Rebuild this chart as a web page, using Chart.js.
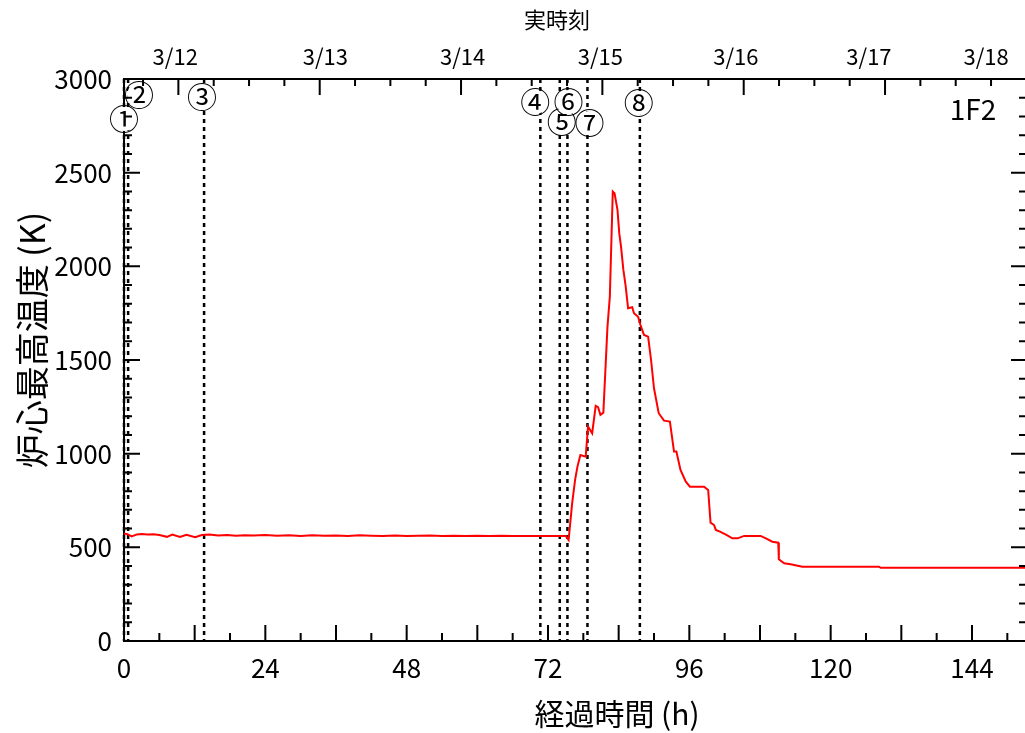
<!DOCTYPE html>
<html>
<head>
<meta charset="utf-8">
<script src="https://cdn.jsdelivr.net/npm/chart.js@4/dist/chart.umd.min.js"></script>
<style>
html, body { margin: 0; padding: 0; background: #fff; }
#wrap { width: 1025px; height: 733px; }
</style>
</head>
<body>
<div id="wrap"><canvas id="core-temp-chart" width="1025" height="733"></canvas></div>
<script>
// 経過時間 (h)
const hours = [
    0, 0.6, 1.3, 2.2, 3.0, 4.0, 5.0, 6.0, 7.3, 8.2, 9.5, 10.6, 12.1, 13.2, 14.5, 16.0,
    17.5, 19.0, 20.5, 22.0, 24.0, 26.0, 28.0, 30.0, 32.0, 34.0, 36.0, 38.0, 40.0, 42.0,
    44.0, 46.0, 48.0, 50.0, 52.0, 54.0, 56.0, 58.0, 60.0, 62.0, 64.0, 66.0, 68.0, 70.0,
    72.0, 74.0, 75.0,
    75.5, 76.1, 76.6, 77.0, 77.5, 78.4, 78.8, 79.5, 80.1, 80.5, 80.9, 81.4, 82.1, 82.5,
    83.0, 83.3, 83.8, 84.1, 84.4, 84.8, 85.2, 85.6, 86.3, 86.6, 87.3, 87.7, 88.3, 89.0,
    89.5, 90.0, 90.8, 91.7, 92.7, 93.4, 93.8, 94.5, 95.4, 96.1, 98.5, 99.2, 99.6, 100.2,
    100.5, 101.2, 102.3, 103.3, 104.2, 105.3, 108.1, 109.0, 110.1, 111.1, 111.2, 112.1,
    113.2, 114.4, 115.2, 128.2, 128.5, 153.0
];
// 炉心最高温度 (K)
const temps = [
    574, 570, 558, 569, 571, 568, 570, 566, 556, 568, 555, 567, 554, 566, 568, 563,
    566, 562, 565, 563, 566, 562, 564, 561, 564, 562, 563, 560, 564, 562,
    561, 563, 560, 562, 563, 561, 562, 560, 562, 561, 562, 561, 561, 561,
    561, 561, 561,
    539, 735, 860, 931, 993, 984, 1144, 1109, 1255, 1248, 1207, 1219, 1678, 1838,
    2399, 2390, 2301, 2177, 2105, 1981, 1892, 1776, 1782, 1750, 1731, 1687, 1634, 1625,
    1500, 1349, 1216, 1176, 1171, 1011, 1011, 913, 850, 824, 824, 806, 632, 619,
    593, 584, 566, 548, 548, 561, 561, 548, 530, 525, 436, 415,
    410, 402, 397, 397, 391, 391
];

// イベント ①〜⑧
const eventNames = ['①', '②', '③', '④', '⑤', '⑥', '⑦', '⑧'];
const eventHours = [0, 0.7, 13.6, 70.7, 74.0, 75.3, 78.7, 87.6];
// ラベルの置き場所 (線からのずれ px, 高さ px)
const eventLabelPos = [[0, 119], [11, 95], [-2, 97], [-5, 102], [2, 122], [1, 102], [2, 123], [-1, 103]];

// 目盛ラベル
const xTickLabels = [0, 24, 48, 72, 96, 120, 144];
const yTickLabels = [0, 500, 1000, 1500, 2000, 2500, 3000];
const dateLabels = ['3/12', '3/13', '3/14', '3/15', '3/16', '3/17', '3/18'];
const dateLabelHours = [8.7, 34.2, 57.5, 80.9, 103.9, 126.5, 146.4];
// 3/11 14:46 から 3/12 0:00 まで
const midnightOffset = 9 + 14 / 60;

const X_MAX = 153;
const FONT = "'Noto Sans CJK JP', 'Noto Sans', sans-serif";

Chart.defaults.font.family = FONT;
Chart.defaults.color = '#000';

const eventLines = {
    id: 'eventLines',
    beforeDatasetsDraw(chart) {
        const { ctx, chartArea: a, scales } = chart;
        ctx.save();
        ctx.strokeStyle = '#000';
        ctx.lineWidth = 2.5;
        ctx.setLineDash([4, 4]);
        eventHours.forEach(h => {
            const x = scales.x.getPixelForValue(h);
            ctx.beginPath();
            ctx.moveTo(x, a.top);
            ctx.lineTo(x, a.bottom);
            ctx.stroke();
        });
        ctx.restore();
    },
    afterDraw(chart) {
        const { ctx, scales } = chart;
        ctx.save();
        ctx.font = '30px ' + FONT;
        ctx.textAlign = 'center';
        ctx.textBaseline = 'middle';
        eventHours.forEach((h, i) => {
            const x = scales.x.getPixelForValue(h) + eventLabelPos[i][0];
            const y = eventLabelPos[i][1];
            ctx.fillStyle = '#fff';
            ctx.beginPath();
            ctx.arc(x, y, 12, 0, Math.PI * 2);
            ctx.fill();
            ctx.fillStyle = '#000';
            ctx.fillText(eventNames[i], x, y);
        });
        ctx.restore();
    }
};

// 内向きの目盛線とタイトル
const frame = {
    id: 'frame',
    afterDraw(chart) {
        const { ctx, chartArea: a, scales } = chart;
        ctx.save();
        ctx.strokeStyle = '#000';
        ctx.lineWidth = 2;
        ctx.beginPath();
        for (let i = 1; i * 6 < X_MAX; i++) {
            const x = scales.x.getPixelForValue(i * 6);
            const len = i % 2 === 0 ? 16 : 8;
            ctx.moveTo(x, a.bottom);
            ctx.lineTo(x, a.bottom - len);
        }
        for (let i = -1; midnightOffset + i * 6 < X_MAX; i++) {
            const x = scales.x2.getPixelForValue(midnightOffset + i * 6);
            const len = i % 4 === 0 ? 16 : 7;
            ctx.moveTo(x, a.top);
            ctx.lineTo(x, a.top + len);
        }
        for (let i = 1; i < 30; i++) {
            const y = scales.y.getPixelForValue(i * 100);
            const major = i % 5 === 0;
            ctx.moveTo(a.left, y);
            ctx.lineTo(a.left + (major ? 16 : 8), y);
            ctx.moveTo(a.right, y);
            ctx.lineTo(a.right - (major ? 14 : 6), y);
        }
        ctx.stroke();

        ctx.fillStyle = '#000';
        ctx.textAlign = 'center';
        ctx.textBaseline = 'middle';
        ctx.font = '22px ' + FONT;
        ctx.fillText('実時刻', 557, 20);
        ctx.font = '28px ' + FONT;
        ctx.fillText('1F2', 973, 109);
        ctx.font = '30px ' + FONT;
        ctx.fillText('経過時間 (h)', 617, 714);
        ctx.translate(32, 340);
        ctx.rotate(-Math.PI / 2);
        ctx.font = '34px ' + FONT;
        ctx.fillText('炉心最高温度 (K)', 0, 0);
        ctx.restore();
    }
};

const ctx = document.getElementById('core-temp-chart').getContext('2d');
new Chart(ctx, {
    type: 'line',
    data: {
        datasets: [{
            label: '炉心最高温度',
            data: hours.map((h, i) => ({ x: h, y: temps[i] })),
            borderColor: '#ff0000',
            borderWidth: 2,
            pointRadius: 0,
            tension: 0,
            fill: false
        }]
    },
    options: {
        responsive: false,
        animation: false,
        events: [],
        layout: { padding: 0 },
        plugins: {
            legend: { display: false },
            tooltip: { enabled: false }
        },
        scales: {
            x: {
                type: 'linear',
                position: 'bottom',
                min: 0,
                max: X_MAX,
                afterBuildTicks: axis => { axis.ticks = xTickLabels.map(v => ({ value: v })); },
                afterFit: axis => { axis.height = 92; },
                grid: { display: false, drawTicks: false },
                border: { display: true, color: '#000', width: 2 },
                ticks: { font: { size: 26 }, padding: 12, maxRotation: 0, autoSkip: false, callback: v => String(v) }
            },
            x2: {
                type: 'linear',
                position: 'top',
                min: 0,
                max: X_MAX,
                afterBuildTicks: axis => { axis.ticks = dateLabelHours.map(v => ({ value: v })); },
                afterFit: axis => { axis.height = 79; },
                grid: { display: false, drawTicks: false },
                border: { display: true, color: '#000', width: 2 },
                ticks: {
                    font: { size: 22 },
                    padding: 9,
                    maxRotation: 0,
                    autoSkip: false,
                    callback: (v, i) => dateLabels[i]
                }
            },
            y: {
                position: 'left',
                min: 0,
                max: 3000,
                afterBuildTicks: axis => { axis.ticks = yTickLabels.map(v => ({ value: v })); },
                afterFit: axis => { axis.width = 124; },
                grid: { display: false, drawTicks: false },
                border: { display: true, color: '#000', width: 2 },
                ticks: { font: { size: 26 }, padding: 12, callback: v => String(v) }
            },
            y2: {
                position: 'right',
                min: 0,
                max: 3000,
                afterFit: axis => { axis.width = 0; },
                grid: { display: false, drawTicks: false },
                border: { display: false },
                ticks: { display: false }
            }
        }
    },
    plugins: [eventLines, frame]
});
</script>
</body>
</html>
